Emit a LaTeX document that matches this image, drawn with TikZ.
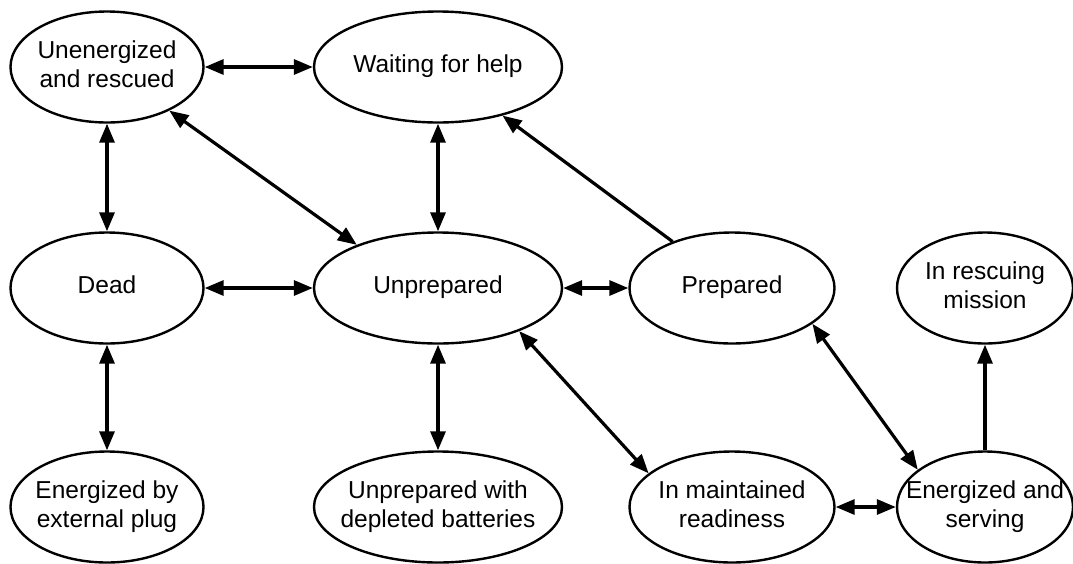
\documentclass[tikz,border=0pt]{standalone}
\usepackage{fontspec}
\setmainfont{Liberation Sans}
\usetikzlibrary{shapes.geometric,arrows.meta}
\newcommand\lbl[1]{\makebox[0pt]{\begin{tabular}{@{}c@{}}#1\end{tabular}}}
\begin{document}
\begin{tikzpicture}[x=1pt,y=-1pt,
  >={Triangle[length=19pt,width=15pt]},
  st/.style={ellipse, draw, line width=2.4pt, inner sep=0pt, minimum height=111pt,
    font=\fontsize{24.5}{29}\selectfont},
  con/.style={line width=3.2pt}]
\useasboundingbox (0,0) rectangle (1073,563);
\node[st, minimum width=193pt] (ur) at (107,67) {\lbl{Unenergized\\and rescued}};
\node[st, minimum width=248pt] (wh) at (438,67) {\lbl{Waiting for help}};
\node[st, minimum width=193pt] (dead) at (107,288) {\lbl{Dead}};
\node[st, minimum width=248pt] (un) at (438,288) {\lbl{Unprepared}};
\node[st, minimum width=205pt] (pr) at (732,288) {\lbl{Prepared}};
\node[st, minimum width=176pt] (rm) at (985,288) {\lbl{In rescuing\\mission}};
\node[st, minimum width=193pt] (ep) at (107,507) {\lbl{Energized by\\external plug}};
\node[st, minimum width=248pt] (ud) at (438,507) {\lbl{Unprepared with\\depleted batteries}};
\node[st, minimum width=205pt] (mr) at (732,507) {\lbl{In maintained\\readiness}};
\node[st, minimum width=176pt] (es) at (985,507) {\lbl{Energized and\\serving}};

\draw[con,<->] (ur) -- (wh);
\draw[con,<->] (ur) -- (dead);
\draw[con,<->] (ur.-35.5) -- (un.152);
\draw[con,<->] (wh) -- (un);
\draw[con,->] (pr.142.5) -- (wh.-37.7);
\draw[con,<->] (dead) -- (un);
\draw[con,<->] (un) -- (pr);
\draw[con,<->] (dead) -- (ep);
\draw[con,<->] (un) -- (ud);
\draw[con,<->] (un.-28) -- (mr.158.7);
\draw[con,<->] (pr.-24) -- (es.151);
\draw[con,<->] (mr) -- (es);
\draw[con,->] (es) -- (rm);
\end{tikzpicture}
\end{document}
